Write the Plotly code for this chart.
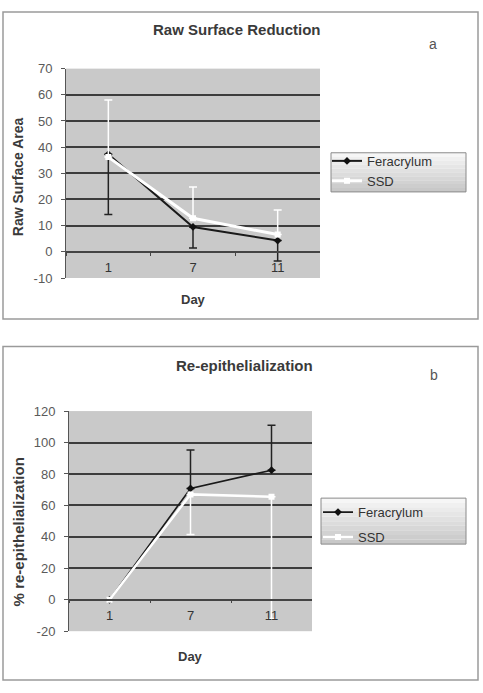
import plotly.graph_objects as go

W, H = 483, 693

days = ["1", "7", "11"]

# Panel a: Raw Surface Reduction
a_fer = [37.3, 9.5, 4.3]
a_fer_err_minus = [23.0, 8.0, 7.8]
a_ssd = [36.2, 12.8, 6.6]
a_ssd_err_plus = [21.8, 12.0, 9.4]

# Panel b: Re-epithelialization
b_fer = [0.0, 70.8, 82.4]
b_fer_err_plus = [0.0, 24.5, 28.5]
b_ssd = [0.0, 67.0, 65.5]
b_ssd_err_minus = [0.0, 25.5, 77.5]

a_yticks = [-10, 0, 10, 20, 30, 40, 50, 60, 70]
b_yticks = [-20, 0, 20, 40, 60, 80, 100, 120]
a_yticklabels = [str(v) for v in a_yticks]
b_yticklabels = [str(v) for v in b_yticks]

FONT = "Liberation Sans, Arial, sans-serif"


def px_x(p):
    return p / W


def px_y(p):
    return 1 - p / H


fig = go.Figure()

zeros = [0, 0, 0]

# Panel a traces
fig.add_trace(go.Scatter(
    x=days, y=a_fer, name="Feracrylum", mode="lines+markers",
    line=dict(color="#1a1a1a", width=2),
    marker=dict(symbol="diamond", size=6, color="#111111"),
    error_y=dict(type="data", symmetric=False, array=zeros, arrayminus=a_fer_err_minus,
                 color="#222222", thickness=1.5, width=4),
    xaxis="x", yaxis="y", legend="legend", legendgroup="af"))
fig.add_trace(go.Scatter(
    x=days, y=a_ssd, name="SSD", mode="lines+markers",
    line=dict(color="#ffffff", width=3),
    marker=dict(symbol="square", size=6, color="#ffffff"),
    error_y=dict(type="data", symmetric=False, array=a_ssd_err_plus, arrayminus=zeros,
                 color="#ffffff", thickness=1.5, width=4),
    xaxis="x", yaxis="y", legend="legend", legendgroup="as"))

# Panel b traces
fig.add_trace(go.Scatter(
    x=days, y=b_fer, name="Feracrylum", mode="lines+markers",
    line=dict(color="#1a1a1a", width=1.6),
    marker=dict(symbol="diamond", size=6, color="#111111"),
    error_y=dict(type="data", symmetric=False, array=b_fer_err_plus, arrayminus=zeros,
                 color="#222222", thickness=1.5, width=4),
    xaxis="x2", yaxis="y2", legend="legend2", legendgroup="bf"))
fig.add_trace(go.Scatter(
    x=days, y=b_ssd, name="SSD", mode="lines+markers",
    line=dict(color="#ffffff", width=2.5),
    marker=dict(symbol="square", size=6, color="#ffffff"),
    error_y=dict(type="data", symmetric=False, array=zeros, arrayminus=b_ssd_err_minus,
                 color="#ffffff", thickness=1.5, width=4),
    xaxis="x2", yaxis="y2", legend="legend2", legendgroup="bs"))

# domains
xa = [px_x(66), px_x(320)]
ya = [px_y(277), px_y(63)]
xb = [px_x(69), px_x(312)]
yb = [px_y(638), px_y(413)]

a_rng = [-10, 70]
b_rng = [-20, 120]


def zero_pos(dom, rng):
    return dom[0] + (0 - rng[0]) / (rng[1] - rng[0]) * (dom[1] - dom[0])


tickfont = dict(family=FONT, size=13, color="#5a5a5a")

common_x = dict(type="category", showgrid=False, showline=True, linecolor="#444444",
                linewidth=1.5, ticks="outside", ticklen=3, tickcolor="#444444",
                tickson="boundaries", tickfont=dict(family=FONT, size=13, color="#333333"),
                zeroline=False, fixedrange=True, range=[-0.5, 2.5], ticklabelstandoff=4)
common_y = dict(showgrid=True, gridcolor="#3c3c3c", gridwidth=1.5, showline=True,
                linecolor="#555555", linewidth=1, ticks="outside", ticklen=4,
                tickcolor="#555555", tickfont=tickfont, zeroline=False, fixedrange=True,
                ticklabelstandoff=6, tickmode="array")

legfont = dict(family=FONT, size=13, color="#333333")

fig.update_layout(
    width=W, height=H,
    margin=dict(l=0, r=0, t=0, b=0),
    paper_bgcolor="white",
    plot_bgcolor="#c9c9c9",
    xaxis=dict(domain=xa, anchor="free", position=zero_pos(ya, a_rng), **common_x),
    yaxis=dict(domain=ya, anchor="x", range=a_rng, tickvals=a_yticks,
               ticktext=a_yticklabels, **common_y),
    xaxis2=dict(domain=xb, anchor="free", position=zero_pos(yb, b_rng), **common_x),
    yaxis2=dict(domain=yb, anchor="x2", range=b_rng, tickvals=b_yticks,
                ticktext=b_yticklabels, **common_y),
    legend=dict(x=px_x(327), y=px_y(142), xanchor="left", yanchor="top",
                bgcolor="rgba(0,0,0,0)", borderwidth=0, font=legfont, tracegroupgap=0),
    legend2=dict(x=px_x(318), y=px_y(501), xanchor="left", yanchor="top",
                 bgcolor="rgba(0,0,0,0)", borderwidth=0, font=legfont, tracegroupgap=5),
    showlegend=True,
)

shapes = []
# panel borders
shapes.append(dict(type="rect", xref="paper", yref="paper", x0=px_x(3), x1=px_x(478),
                   y0=px_y(319), y1=px_y(5), line=dict(color="#9a9a9a", width=1.5)))
shapes.append(dict(type="rect", xref="paper", yref="paper", x0=px_x(3), x1=px_x(478),
                   y0=px_y(688), y1=px_y(347), line=dict(color="#9a9a9a", width=1.5)))


# legend boxes with stepped gradient
def legend_box(x0, x1, y0, y1):
    n = 10
    out = []
    for i in range(n):
        t = i / (n - 1)
        c = int(246 - t * (246 - 200))
        ya0 = y0 + (y1 - y0) * i / n
        ya1 = y0 + (y1 - y0) * (i + 1) / n
        out.append(dict(type="rect", xref="paper", yref="paper", x0=px_x(x0), x1=px_x(x1),
                        y0=px_y(ya1), y1=px_y(ya0), line=dict(width=0),
                        fillcolor=f"rgb({c},{c},{c})", layer="above"))
    out.append(dict(type="rect", xref="paper", yref="paper", x0=px_x(x0), x1=px_x(x1),
                    y0=px_y(y1), y1=px_y(y0), line=dict(color="#8a8a8a", width=1),
                    layer="above"))
    return out


shapes += legend_box(331, 466, 149, 189)
shapes += legend_box(321, 466, 502, 549)
fig.update_layout(shapes=shapes)

ann = []


def text(x, y, s, size=12, bold=False, color="#333333", angle=0):
    ann.append(dict(xref="paper", yref="paper", x=px_x(x), y=px_y(y), text=(f"<b>{s}</b>" if bold else s),
                    showarrow=False, xanchor="center", yanchor="middle", textangle=angle,
                    font=dict(family=FONT, size=size, color=color)))


text(237, 23, "Raw Surface Reduction", 15, True, "#3a3a3a")
text(433, 38, "a", 14, False, "#555555")
text(18, 174, "Raw Surface Area", 14, True, "#3a3a3a", -90)
text(193, 299, "Day", 13, True, "#3a3a3a")

text(244, 366, "Re-epithelialization", 15, True, "#3a3a3a")
text(434, 376, "b", 14, False, "#555555")
text(18, 537, "% re-epithelialization", 15, True, "#3a3a3a", -90)
text(190, 664, "Day", 13, True, "#3a3a3a")

fig.update_layout(annotations=ann)

fig.write_html("out.html")
